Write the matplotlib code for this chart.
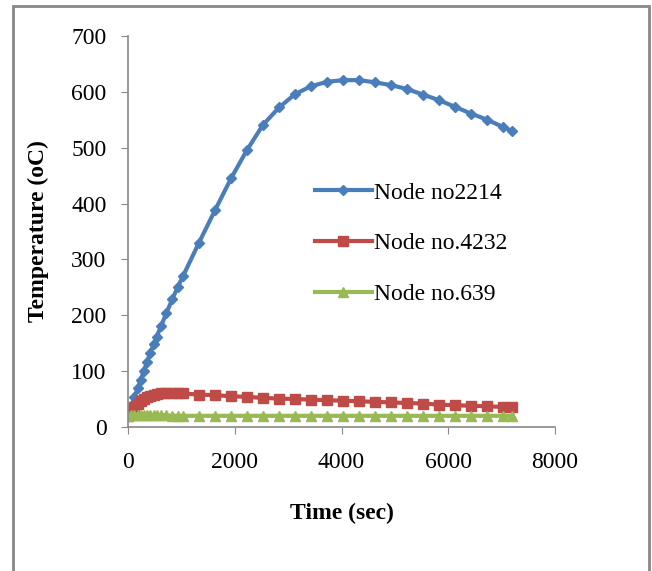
import matplotlib
matplotlib.use('Agg')
import matplotlib.pyplot as plt
from matplotlib.patches import Rectangle

# time steps (sec)
time = [0, 60, 120, 180, 240, 300, 360, 420, 480, 540, 620, 720, 830, 930, 1030,
        1330, 1630, 1930, 2230, 2530, 2830, 3130, 3430, 3730, 4030, 4330, 4630,
        4930, 5230, 5530, 5830, 6130, 6430, 6730, 7030, 7200]

node_2214 = [20, 37, 53, 69, 85, 101, 117, 133, 148, 162, 181, 204, 229, 250, 270,
             330, 388, 445, 496, 541, 572, 596, 610, 618, 621, 621, 617,
             612, 605, 595, 585, 573, 561, 550, 537, 530]
node_4232 = [20, 28, 35, 41, 46, 50, 53, 56, 58, 59, 60, 61, 61, 60, 60,
             58, 57, 55, 54, 52, 51, 50, 49, 48, 47, 46, 45,
             44, 43, 42, 40, 39, 38, 37, 36, 35]
node_639 = [20, 22, 22, 22, 21, 21, 21, 21, 21, 21, 21, 21, 20, 20, 20,
            20, 20, 20, 20, 20, 20, 20, 20, 20, 20, 20, 20,
            20, 20, 20, 20, 20, 20, 20, 20, 20]

plt.rcParams['font.family'] = ['Liberation Serif', 'DejaVu Serif']

fig = plt.figure(figsize=(6.52, 5.71), dpi=100)
ax = fig.add_axes([128/652, 1 - 427/571, (555-128)/652, (427-36)/571])

ax.plot(time, node_2214, color='#4A7EBB', lw=3, marker='D', ms=5.5, label='Node no2214')
ax.plot(time, node_4232, color='#BE4B48', lw=3, marker='s', ms=7.5, label='Node no.4232')
ax.plot(time, node_639, color='#98B954', lw=3, marker='^', ms=6.5, label='Node no.639')

ax.set_xlim(0, 8000)
ax.set_ylim(0, 700)
ax.set_xticks([0, 2000, 4000, 6000, 8000])
ax.set_yticks(range(0, 701, 100))
for s in ['top', 'right']:
    ax.spines[s].set_visible(False)
for s in ['left', 'bottom']:
    ax.spines[s].set_color('#888888')
    ax.spines[s].set_linewidth(1.2)
ax.tick_params(direction='out', length=5, color='#888888', labelsize=17)
ax.tick_params(axis='y', pad=10.5)
ax.tick_params(axis='x', pad=13)

ax.set_xlabel('Time (sec)', fontsize=17, fontweight='bold', va='center')
ax.xaxis.set_label_coords(0.50, (427 - 513) / 391)
ax.set_ylabel('Temperature (oC)', fontsize=17, fontweight='bold', va='center')
ax.yaxis.set_label_coords((38 - 128) / 427, 0.5)

ax.legend(loc='upper left', bbox_to_anchor=(315/652, 1 - 182/571),
          bbox_transform=fig.transFigure, frameon=False, fontsize=17,
          handlelength=2.4, handletextpad=0.08, labelspacing=1.24,
          borderpad=0, borderaxespad=0)

fig.patches.append(Rectangle((13/652, -0.02), (649-13)/652, 1.02 - 6/571,
                             transform=fig.transFigure, fill=False,
                             edgecolor='#888888', lw=2))

fig.savefig('out.png', dpi=100)
